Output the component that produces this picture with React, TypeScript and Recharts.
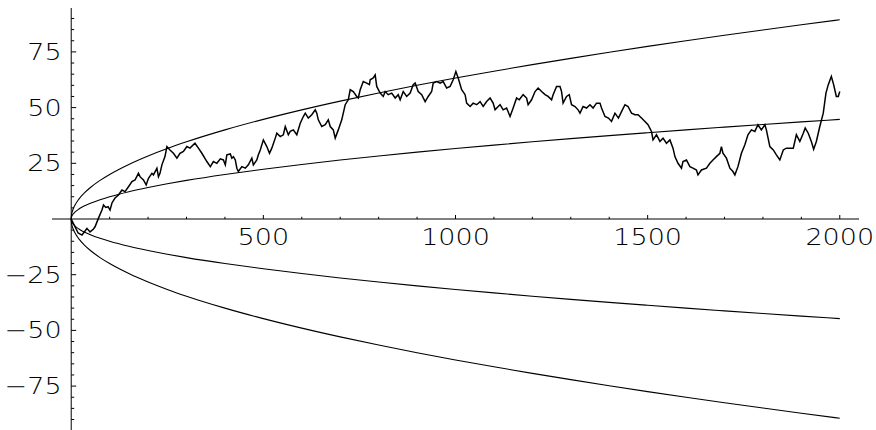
import React from 'react';
import { LineChart, Line, XAxis, YAxis, ReferenceLine } from 'recharts';

// Bound curves (sample positions and values)
const curveX = [0, 0.5, 2, 5, 10, 20, 35, 50, 75, 100, 150, 200, 250, 300, 400, 500, 600, 700, 800, 900, 1000, 1100, 1200, 1300, 1400, 1500, 1600, 1700, 1800, 1900, 2000];
const innerUpper = [0, 0.71, 1.41, 2.24, 3.16, 4.47, 5.92, 7.07, 8.66, 10, 12.25, 14.14, 15.81, 17.32, 20, 22.36, 24.49, 26.46, 28.28, 30, 31.62, 33.17, 34.64, 36.06, 37.42, 38.73, 40, 41.23, 42.43, 43.59, 44.72];
const outerUpper = [0, 1.41, 2.83, 4.47, 6.32, 8.94, 11.83, 14.14, 17.32, 20, 24.49, 28.28, 31.62, 34.64, 40, 44.72, 48.99, 52.92, 56.57, 60, 63.25, 66.33, 69.28, 72.11, 74.83, 77.46, 80, 82.46, 84.85, 87.18, 89.44];
const innerLower = [0, -0.71, -1.41, -2.24, -3.16, -4.47, -5.92, -7.07, -8.66, -10, -12.25, -14.14, -15.81, -17.32, -20, -22.36, -24.49, -26.46, -28.28, -30, -31.62, -33.17, -34.64, -36.06, -37.42, -38.73, -40, -41.23, -42.43, -43.59, -44.72];
const outerLower = [0, -1.41, -2.83, -4.47, -6.32, -8.94, -11.83, -14.14, -17.32, -20, -24.49, -28.28, -31.62, -34.64, -40, -44.72, -48.99, -52.92, -56.57, -60, -63.25, -66.33, -69.28, -72.11, -74.83, -77.46, -80, -82.46, -84.85, -87.18, -89.44];

// Random walk path
const walkX = [0, 18, 28, 36, 41, 49, 58, 62, 71, 80, 84, 90, 96, 101, 106, 114, 123, 132, 140, 149, 158, 166, 175, 179, 188, 195, 201, 210, 214, 223, 227, 231, 236, 244, 249, 257, 266, 275, 283, 292, 301, 309, 322, 331, 340, 353, 362, 370, 379, 388, 396, 401, 405, 414, 418, 422, 427, 431, 435, 444, 453, 461, 470, 474, 483, 487, 492, 500, 509, 516, 522, 531, 535, 544, 552, 557, 565, 570, 578, 587, 596, 604, 609, 617, 626, 635, 639, 643, 652, 661, 669, 674, 682, 687, 695, 704, 708, 713, 721, 726, 734, 743, 747, 752, 760, 769, 776, 778, 786, 791, 795, 804, 812, 817, 825, 834, 843, 851, 856, 864, 873, 882, 890, 895, 903, 912, 921, 929, 938, 942, 951, 960, 968, 977, 986, 994, 1001, 1007, 1016, 1025, 1029, 1038, 1046, 1055, 1064, 1072, 1081, 1090, 1098, 1103, 1111, 1116, 1124, 1133, 1142, 1150, 1159, 1166, 1176, 1185, 1189, 1198, 1207, 1215, 1224, 1233, 1241, 1250, 1254, 1263, 1272, 1276, 1280, 1289, 1296, 1302, 1311, 1319, 1324, 1332, 1341, 1350, 1358, 1367, 1376, 1380, 1389, 1398, 1406, 1415, 1424, 1432, 1441, 1449, 1458, 1467, 1475, 1484, 1493, 1501, 1510, 1514, 1523, 1532, 1540, 1549, 1558, 1566, 1571, 1579, 1588, 1592, 1601, 1610, 1618, 1627, 1631, 1640, 1653, 1662, 1670, 1679, 1688, 1692, 1696, 1705, 1714, 1722, 1727, 1735, 1744, 1753, 1761, 1770, 1779, 1787, 1796, 1805, 1809, 1818, 1827, 1835, 1844, 1853, 1861, 1870, 1879, 1887, 1896, 1905, 1910, 1918, 1926, 1932, 1939, 1948, 1957, 1964, 1970, 1978, 1984, 1991, 1996, 2000];
const walkY = [0, -6.3, -7.2, -5.4, -4.2, -5.8, -4.5, -3.5, 0.4, 4, 6.3, 5.2, 5.5, 4, 7.2, 9.4, 10.8, 13, 12.3, 14.5, 16.8, 17.5, 20.5, 19, 17.5, 15.3, 18.3, 20.5, 19.8, 22.8, 19, 20.5, 24.3, 28, 32.5, 31, 29.5, 27.3, 29.5, 30.3, 32.5, 31.8, 34, 31.8, 29.5, 25.8, 23.5, 25.8, 25, 27, 26.5, 24.3, 28.8, 29.2, 27.3, 28, 26.5, 22.8, 21.3, 23.5, 22.8, 24.3, 27.3, 24.3, 26.5, 28.8, 31, 35.5, 32.5, 29.5, 31.8, 36.3, 38.5, 37, 37.8, 41.5, 37.8, 39.3, 40, 37.8, 43, 46, 47.5, 45.3, 46.8, 49, 47.5, 44.5, 41.5, 42.3, 44.5, 41.5, 40, 36.3, 40, 44.5, 47.5, 51.3, 53.5, 58, 57.2, 55, 54.3, 58, 61.7, 61, 60.3, 62.5, 63.3, 64.7, 59.5, 56.5, 55, 57.2, 55.8, 56.5, 54.3, 55.8, 53.5, 57.2, 55, 56.5, 60.3, 61, 57.2, 55.8, 52.7, 55, 57.2, 61, 61.7, 61, 61.7, 58.8, 59.5, 62.5, 66.2, 63.3, 58, 55.8, 52, 50.5, 52, 51.3, 52.7, 50.5, 52.7, 54.3, 52, 49, 50.5, 51.3, 49, 49.8, 46, 49.8, 54.3, 53.5, 55.8, 54.3, 51.3, 53.5, 57.2, 58.8, 57.2, 55.8, 55, 53.5, 55.8, 59.5, 59.5, 57.2, 52, 55, 55.8, 51.3, 50.5, 49, 47.5, 50.5, 49.8, 51.3, 49.8, 52, 52, 49.8, 46, 45.3, 43.8, 47.5, 45.3, 48.2, 51.3, 50.5, 47.5, 46.8, 46.8, 45.3, 43.8, 42.3, 39.3, 35.5, 37.8, 34.8, 36.3, 34, 35.5, 31.8, 28, 25, 22.8, 25.8, 26.5, 23.5, 22.8, 22, 19.8, 22, 22.8, 25, 26.5, 28, 29.5, 32.5, 29.5, 27.3, 22.8, 21.3, 19.8, 23.5, 29.5, 33.3, 37.8, 40, 39.3, 42.3, 40, 42.3, 40, 32.5, 31, 28.8, 26.5, 31, 31.8, 31.8, 31.8, 37.8, 34.8, 38.5, 40.8, 38.5, 34.8, 31.3, 34.8, 41.5, 47.5, 56.5, 60.3, 64, 60.3, 55, 55, 57.2];

// Ticks and labels
const xMajorTicks = [500, 1000, 1500, 2000];
const xTickLabels = ['500', '1000', '1500', '2000'];
const xMinorTicks = [100, 200, 300, 400, 600, 700, 800, 900, 1100, 1200, 1300, 1400, 1600, 1700, 1800, 1900];
const yMajorTicks = [-75, -50, -25, 25, 50, 75];
const yTickLabels = ['−75', '−50', '−25', '25', '50', '75'];
const yMinorTicks = [-90, -85, -80, -70, -65, -60, -55, -45, -40, -35, -30, -20, -15, -10, -5, 5, 10, 15, 20, 30, 35, 40, 45, 55, 60, 65, 70, 80, 85, 90];

const toRows = (xs: number[], ys: number[]) => xs.map((x, i) => ({ x, y: ys[i] }));
const walkData = toRows(walkX, walkY);
const innerUpperData = toRows(curveX, innerUpper);
const outerUpperData = toRows(curveX, outerUpper);
const innerLowerData = toRows(curveX, innerLower);
const outerLowerData = toRows(curveX, outerLower);

const textStyle: React.CSSProperties = { fontFamily: '"DejaVu Sans", "Liberation Sans", sans-serif', fontSize: 22.5, fontWeight: 200 };
const SX = 1.2;

function XTickLabel(props: any) {
  const vb = props.viewBox;
  if (!vb) return null;
  const cx = vb.x + (vb.width || 0) / 2;
  const base = vb.y + (vb.height || 0);
  return (
    <text transform={`translate(${cx},${base + 25.5}) scale(${SX},1)`} textAnchor="middle" fill="#000" style={textStyle}>
      {props.text}
    </text>
  );
}

function YTickLabel(props: any) {
  const vb = props.viewBox;
  if (!vb) return null;
  return (
    <text transform={`translate(${vb.x - 9.5},${vb.y + 8}) scale(${SX},1)`} textAnchor="end" fill="#000" style={textStyle}>
      {props.text}
    </text>
  );
}

export default function App() {
  return (
    <div style={{ position: 'absolute', left: 0, top: 0, background: '#fff' }}>
      <LineChart width={876} height={430} margin={{ top: 8, right: 17, bottom: 0, left: 52 }}>
        <XAxis type="number" dataKey="x" domain={[-50, 2050]} allowDataOverflow hide />
        <YAxis type="number" dataKey="y" domain={[-94.7, 94.7]} allowDataOverflow hide />
        <ReferenceLine y={0} stroke="#000" strokeWidth={1} />
        <ReferenceLine x={0} stroke="#000" strokeWidth={1} />
        {xMinorTicks.map((t) => (
          <ReferenceLine key={'xm' + t} segment={[{ x: t, y: 0 }, { x: t, y: 1.0 }]} stroke="#000" strokeWidth={1} />
        ))}
        {xMajorTicks.map((t, i) => (
          <ReferenceLine key={'xM' + t} segment={[{ x: t, y: 0 }, { x: t, y: 1.8 }]} stroke="#000" strokeWidth={1}
            label={<XTickLabel text={xTickLabels[i]} />} />
        ))}
        {yMinorTicks.map((t) => (
          <ReferenceLine key={'ym' + t} segment={[{ x: 0, y: t }, { x: 7.8, y: t }]} stroke="#000" strokeWidth={1} />
        ))}
        {yMajorTicks.map((t, i) => (
          <ReferenceLine key={'yM' + t} segment={[{ x: 0, y: t }, { x: 13, y: t }]} stroke="#000" strokeWidth={1}
            label={<YTickLabel text={yTickLabels[i]} />} />
        ))}
        <Line data={outerUpperData} dataKey="y" type="monotone" stroke="#000" strokeWidth={1.1} dot={false} activeDot={false} isAnimationActive={false} />
        <Line data={innerUpperData} dataKey="y" type="monotone" stroke="#000" strokeWidth={1.1} dot={false} activeDot={false} isAnimationActive={false} />
        <Line data={innerLowerData} dataKey="y" type="monotone" stroke="#000" strokeWidth={1.1} dot={false} activeDot={false} isAnimationActive={false} />
        <Line data={outerLowerData} dataKey="y" type="monotone" stroke="#000" strokeWidth={1.1} dot={false} activeDot={false} isAnimationActive={false} />
        <Line data={walkData} dataKey="y" type="linear" stroke="#000" strokeWidth={1.5} dot={false} activeDot={false} isAnimationActive={false} />
      </LineChart>
    </div>
  );
}
